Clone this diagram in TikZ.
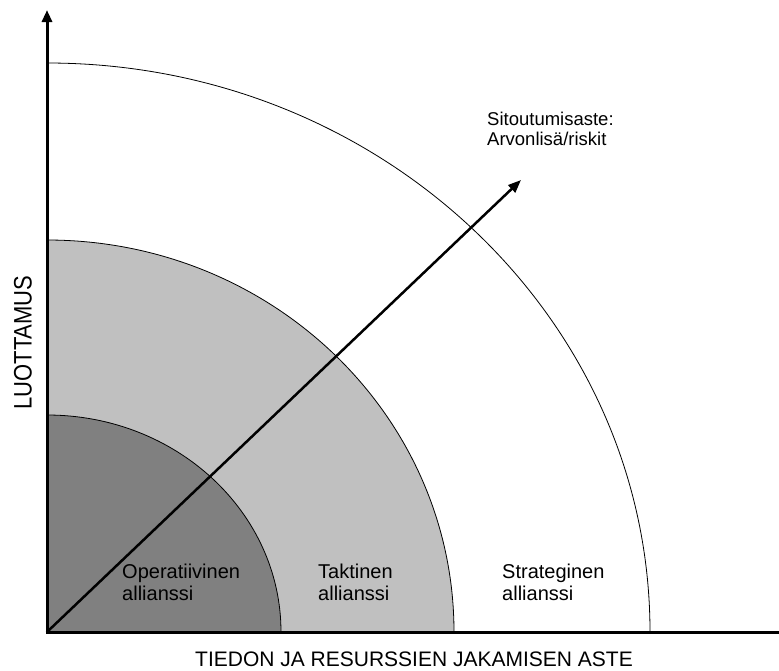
\documentclass[tikz,border=0pt]{standalone}
\usepackage{fontspec}
\setmainfont{Liberation Sans}
\usetikzlibrary{arrows.meta}
\begin{document}
\begin{tikzpicture}[x=1pt,y=-1pt,
  axis/.style={line width=3pt,-{Triangle[length=12pt,width=10pt]}},
  diag/.style={line width=2.5pt,-{Triangle[length=13pt,width=10pt]}},
  ring/.style={draw=black,line width=0.8pt},
  lbl/.style={font=\fontsize{20}{22}\selectfont,align=left,inner sep=0pt,anchor=base west}]
\useasboundingbox (0,0) rectangle (779,670);
\coordinate (O) at (47,632);
\coordinate (ytip) at (47,10);
\coordinate (xend) at (779,632);
\coordinate (dtip) at (521,180);
% rings
\filldraw[ring,fill=white] (O) -- ++(603,0) arc[start angle=0,end angle=-90,x radius=603,y radius=569] -- cycle;
\filldraw[ring,fill={rgb,255:red,192;green,192;blue,192}] (O) -- ++(407,0) arc[start angle=0,end angle=-90,x radius=407,y radius=392] -- cycle;
\filldraw[ring,fill={rgb,255:red,128;green,128;blue,128}] (O) -- ++(234,0) arc[start angle=0,end angle=-90,x radius=234,y radius=217] -- cycle;
% axes
\draw[axis] ([yshift=1.5pt]O) -- (ytip);
\draw[line width=3pt] ([xshift=-1.5pt]O) -- (xend);
\draw[diag] (O) -- (dtip);
% labels
\node[lbl] (op) at (122,600) {Operatiivinen\\allianssi};
\node[lbl] (ta) at (318,600) {Taktinen\\allianssi};
\node[lbl] (st) at (502,600) {Strateginen\\allianssi};
\node[lbl,font=\fontsize{18.5}{20}\selectfont] (si) at (487,145) {Sitoutumisaste:\\Arvonlisä/riskit};
\node[font=\fontsize{21}{22}\selectfont,inner sep=0pt,anchor=base] (xl) at (414,666.5) {TIEDON JA RESURSSIEN JAKAMISEN ASTE};
\node[font=\fontsize{22}{22}\selectfont,inner sep=0pt,anchor=base,rotate=90] (yl) at (31.7,342.5) {\scalebox{1}[1.15]{LUOTTAMUS}};
\end{tikzpicture}
\end{document}
